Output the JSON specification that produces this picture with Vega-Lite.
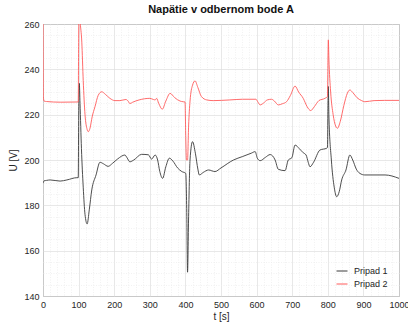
{
  "$schema": "https://vega.github.io/schema/vega-lite/v6.json",
  "width": 356,
  "height": 272,
  "autosize": {"type": "none"},
  "padding": {"left": 43, "top": 24, "right": 9, "bottom": 27},
  "background": "white",
  "config": {
    "font": "Liberation Sans",
    "view": {"stroke": "#9a9a9a", "strokeWidth": 1}
  },
  "title": {"text": "Napätie v odbernom bode A", "fontSize": 11, "fontWeight": "bold", "color": "#111", "anchor": "middle", "offset": 5, "font": "Liberation Sans"},
  "data": {"values": [
    {"t": 0, "U": 189.7, "s": "Pripad 1"},
    {"t": 3, "U": 190.8, "s": "Pripad 1"},
    {"t": 10, "U": 191.0, "s": "Pripad 1"},
    {"t": 20, "U": 191.2, "s": "Pripad 1"},
    {"t": 48, "U": 190.7, "s": "Pripad 1"},
    {"t": 67, "U": 191.2, "s": "Pripad 1"},
    {"t": 95, "U": 192.2, "s": "Pripad 1"},
    {"t": 99, "U": 192.2, "s": "Pripad 1"},
    {"t": 100.5, "U": 225, "s": "Pripad 1"},
    {"t": 102, "U": 233.8, "s": "Pripad 1"},
    {"t": 104, "U": 225, "s": "Pripad 1"},
    {"t": 108, "U": 205, "s": "Pripad 1"},
    {"t": 113, "U": 188, "s": "Pripad 1"},
    {"t": 118, "U": 176, "s": "Pripad 1"},
    {"t": 124, "U": 171.8, "s": "Pripad 1"},
    {"t": 130, "U": 178, "s": "Pripad 1"},
    {"t": 137, "U": 186.8, "s": "Pripad 1"},
    {"t": 149, "U": 193.4, "s": "Pripad 1"},
    {"t": 160, "U": 199, "s": "Pripad 1"},
    {"t": 170, "U": 198.3, "s": "Pripad 1"},
    {"t": 183, "U": 197.2, "s": "Pripad 1"},
    {"t": 195, "U": 198.5, "s": "Pripad 1"},
    {"t": 210, "U": 200.5, "s": "Pripad 1"},
    {"t": 230, "U": 202.2, "s": "Pripad 1"},
    {"t": 236, "U": 201, "s": "Pripad 1"},
    {"t": 244, "U": 199.2, "s": "Pripad 1"},
    {"t": 255, "U": 200, "s": "Pripad 1"},
    {"t": 277, "U": 202.5, "s": "Pripad 1"},
    {"t": 296, "U": 202.3, "s": "Pripad 1"},
    {"t": 305, "U": 200.4, "s": "Pripad 1"},
    {"t": 315, "U": 202.2, "s": "Pripad 1"},
    {"t": 322, "U": 200, "s": "Pripad 1"},
    {"t": 328, "U": 195, "s": "Pripad 1"},
    {"t": 336, "U": 191.9, "s": "Pripad 1"},
    {"t": 345, "U": 197, "s": "Pripad 1"},
    {"t": 355, "U": 200.8, "s": "Pripad 1"},
    {"t": 365, "U": 199.5, "s": "Pripad 1"},
    {"t": 378, "U": 196.5, "s": "Pripad 1"},
    {"t": 390, "U": 194.9, "s": "Pripad 1"},
    {"t": 401, "U": 194.1, "s": "Pripad 1"},
    {"t": 404, "U": 175, "s": "Pripad 1"},
    {"t": 406, "U": 150.5, "s": "Pripad 1"},
    {"t": 409, "U": 175, "s": "Pripad 1"},
    {"t": 413, "U": 200, "s": "Pripad 1"},
    {"t": 420, "U": 208.1, "s": "Pripad 1"},
    {"t": 428, "U": 203, "s": "Pripad 1"},
    {"t": 435, "U": 196, "s": "Pripad 1"},
    {"t": 439, "U": 193.4, "s": "Pripad 1"},
    {"t": 450, "U": 194.5, "s": "Pripad 1"},
    {"t": 465, "U": 195.6, "s": "Pripad 1"},
    {"t": 483, "U": 194.9, "s": "Pripad 1"},
    {"t": 500, "U": 196.5, "s": "Pripad 1"},
    {"t": 535, "U": 200, "s": "Pripad 1"},
    {"t": 560, "U": 201.5, "s": "Pripad 1"},
    {"t": 585, "U": 203, "s": "Pripad 1"},
    {"t": 596, "U": 203.7, "s": "Pripad 1"},
    {"t": 602, "U": 200.8, "s": "Pripad 1"},
    {"t": 610, "U": 199.7, "s": "Pripad 1"},
    {"t": 625, "U": 201.2, "s": "Pripad 1"},
    {"t": 638, "U": 202.4, "s": "Pripad 1"},
    {"t": 652, "U": 200, "s": "Pripad 1"},
    {"t": 661, "U": 195.9, "s": "Pripad 1"},
    {"t": 680, "U": 195.3, "s": "Pripad 1"},
    {"t": 689, "U": 200, "s": "Pripad 1"},
    {"t": 699, "U": 201, "s": "Pripad 1"},
    {"t": 708, "U": 206.6, "s": "Pripad 1"},
    {"t": 720, "U": 205, "s": "Pripad 1"},
    {"t": 731, "U": 203.2, "s": "Pripad 1"},
    {"t": 739, "U": 202.2, "s": "Pripad 1"},
    {"t": 745, "U": 199, "s": "Pripad 1"},
    {"t": 750, "U": 197, "s": "Pripad 1"},
    {"t": 760, "U": 199, "s": "Pripad 1"},
    {"t": 778, "U": 204.4, "s": "Pripad 1"},
    {"t": 797, "U": 205.2, "s": "Pripad 1"},
    {"t": 799, "U": 205.5, "s": "Pripad 1"},
    {"t": 800.5, "U": 225, "s": "Pripad 1"},
    {"t": 801.5, "U": 232.4, "s": "Pripad 1"},
    {"t": 803, "U": 220, "s": "Pripad 1"},
    {"t": 810, "U": 200, "s": "Pripad 1"},
    {"t": 818, "U": 188, "s": "Pripad 1"},
    {"t": 825, "U": 183.8, "s": "Pripad 1"},
    {"t": 832, "U": 186, "s": "Pripad 1"},
    {"t": 839, "U": 191.2, "s": "Pripad 1"},
    {"t": 851, "U": 195.6, "s": "Pripad 1"},
    {"t": 862, "U": 202.2, "s": "Pripad 1"},
    {"t": 870, "U": 200, "s": "Pripad 1"},
    {"t": 880, "U": 196, "s": "Pripad 1"},
    {"t": 890, "U": 194.1, "s": "Pripad 1"},
    {"t": 904, "U": 193.4, "s": "Pripad 1"},
    {"t": 961, "U": 193.4, "s": "Pripad 1"},
    {"t": 1000, "U": 191.9, "s": "Pripad 1"},

    {"t": 0, "U": 270, "s": "Pripad 2"},
    {"t": 1, "U": 228, "s": "Pripad 2"},
    {"t": 3, "U": 226, "s": "Pripad 2"},
    {"t": 10, "U": 225.8, "s": "Pripad 2"},
    {"t": 50, "U": 225.5, "s": "Pripad 2"},
    {"t": 99, "U": 225.6, "s": "Pripad 2"},
    {"t": 100, "U": 250, "s": "Pripad 2"},
    {"t": 101.5, "U": 270, "s": "Pripad 2"},
    {"t": 104, "U": 262, "s": "Pripad 2"},
    {"t": 109, "U": 252, "s": "Pripad 2"},
    {"t": 113, "U": 235, "s": "Pripad 2"},
    {"t": 118, "U": 220, "s": "Pripad 2"},
    {"t": 124, "U": 213.5, "s": "Pripad 2"},
    {"t": 127, "U": 212.5, "s": "Pripad 2"},
    {"t": 132, "U": 214, "s": "Pripad 2"},
    {"t": 138, "U": 219, "s": "Pripad 2"},
    {"t": 146, "U": 223.5, "s": "Pripad 2"},
    {"t": 155, "U": 228.5, "s": "Pripad 2"},
    {"t": 165, "U": 230.1, "s": "Pripad 2"},
    {"t": 175, "U": 229, "s": "Pripad 2"},
    {"t": 188, "U": 227.2, "s": "Pripad 2"},
    {"t": 202, "U": 226.2, "s": "Pripad 2"},
    {"t": 216, "U": 226.2, "s": "Pripad 2"},
    {"t": 233, "U": 226.7, "s": "Pripad 2"},
    {"t": 239, "U": 226, "s": "Pripad 2"},
    {"t": 244, "U": 224.9, "s": "Pripad 2"},
    {"t": 252, "U": 225.5, "s": "Pripad 2"},
    {"t": 270, "U": 226.5, "s": "Pripad 2"},
    {"t": 300, "U": 227.2, "s": "Pripad 2"},
    {"t": 310, "U": 226.7, "s": "Pripad 2"},
    {"t": 315, "U": 226.5, "s": "Pripad 2"},
    {"t": 319, "U": 227.2, "s": "Pripad 2"},
    {"t": 325, "U": 225, "s": "Pripad 2"},
    {"t": 335, "U": 222.4, "s": "Pripad 2"},
    {"t": 345, "U": 226, "s": "Pripad 2"},
    {"t": 357, "U": 229.4, "s": "Pripad 2"},
    {"t": 370, "U": 227.5, "s": "Pripad 2"},
    {"t": 385, "U": 226, "s": "Pripad 2"},
    {"t": 394, "U": 225.7, "s": "Pripad 2"},
    {"t": 399, "U": 225.6, "s": "Pripad 2"},
    {"t": 401, "U": 210, "s": "Pripad 2"},
    {"t": 403, "U": 200, "s": "Pripad 2"},
    {"t": 406, "U": 200, "s": "Pripad 2"},
    {"t": 409, "U": 215, "s": "Pripad 2"},
    {"t": 413, "U": 226, "s": "Pripad 2"},
    {"t": 420, "U": 233, "s": "Pripad 2"},
    {"t": 427, "U": 234.9, "s": "Pripad 2"},
    {"t": 435, "U": 232, "s": "Pripad 2"},
    {"t": 445, "U": 228, "s": "Pripad 2"},
    {"t": 460, "U": 226.5, "s": "Pripad 2"},
    {"t": 478, "U": 226.2, "s": "Pripad 2"},
    {"t": 525, "U": 226.5, "s": "Pripad 2"},
    {"t": 560, "U": 226.8, "s": "Pripad 2"},
    {"t": 598, "U": 226.8, "s": "Pripad 2"},
    {"t": 604, "U": 225.5, "s": "Pripad 2"},
    {"t": 610, "U": 224.3, "s": "Pripad 2"},
    {"t": 620, "U": 225.2, "s": "Pripad 2"},
    {"t": 630, "U": 226.5, "s": "Pripad 2"},
    {"t": 642, "U": 226.8, "s": "Pripad 2"},
    {"t": 650, "U": 226, "s": "Pripad 2"},
    {"t": 661, "U": 224.3, "s": "Pripad 2"},
    {"t": 672, "U": 224.8, "s": "Pripad 2"},
    {"t": 684, "U": 225.7, "s": "Pripad 2"},
    {"t": 695, "U": 228.5, "s": "Pripad 2"},
    {"t": 708, "U": 232.6, "s": "Pripad 2"},
    {"t": 718, "U": 230, "s": "Pripad 2"},
    {"t": 731, "U": 227.2, "s": "Pripad 2"},
    {"t": 742, "U": 223.5, "s": "Pripad 2"},
    {"t": 752, "U": 221.8, "s": "Pripad 2"},
    {"t": 762, "U": 223.5, "s": "Pripad 2"},
    {"t": 775, "U": 226.2, "s": "Pripad 2"},
    {"t": 792, "U": 227.2, "s": "Pripad 2"},
    {"t": 799, "U": 228, "s": "Pripad 2"},
    {"t": 800.5, "U": 245, "s": "Pripad 2"},
    {"t": 801.5, "U": 253, "s": "Pripad 2"},
    {"t": 803, "U": 245, "s": "Pripad 2"},
    {"t": 808, "U": 230, "s": "Pripad 2"},
    {"t": 815, "U": 220, "s": "Pripad 2"},
    {"t": 822, "U": 215, "s": "Pripad 2"},
    {"t": 827, "U": 214, "s": "Pripad 2"},
    {"t": 835, "U": 217, "s": "Pripad 2"},
    {"t": 845, "U": 224, "s": "Pripad 2"},
    {"t": 855, "U": 229.5, "s": "Pripad 2"},
    {"t": 862, "U": 230.9, "s": "Pripad 2"},
    {"t": 870, "U": 229.8, "s": "Pripad 2"},
    {"t": 882, "U": 227.5, "s": "Pripad 2"},
    {"t": 895, "U": 226.2, "s": "Pripad 2"},
    {"t": 904, "U": 225.7, "s": "Pripad 2"},
    {"t": 930, "U": 226.2, "s": "Pripad 2"},
    {"t": 960, "U": 226.3, "s": "Pripad 2"},
    {"t": 1000, "U": 226.3, "s": "Pripad 2"}
  ]},
  "mark": {"type": "line", "clip": true, "strokeWidth": 0.9, "interpolate": "monotone"},
  "encoding": {
    "x": {
      "field": "t", "type": "quantitative",
      "scale": {"domain": [0, 1000], "nice": false, "zero": false},
      "axis": {
        "title": "t [s]", "titleFontSize": 10, "titleFontWeight": "normal", "titleColor": "#262626", "titlePadding": 2,
        "values": [0,20,40,60,80,100,120,140,160,180,200,220,240,260,280,300,320,340,360,380,400,420,440,460,480,500,520,540,560,580,600,620,640,660,680,700,720,740,760,780,800,820,840,860,880,900,920,940,960,980,1000],
        "format": "d",
        "labelExpr": "datum.value % 100 === 0 ? datum.label : ''",
        "labelOverlap": false, "labelFlush": false, "labelFontSize": 9, "labelColor": "#262626", "labelPadding": 4,
        "domain": false, "ticks": false,
        "gridColor": {"condition": {"test": "datum.value % 100 === 0", "value": "#dedede"}, "value": "#ececec"},
        "gridDash": {"condition": {"test": "datum.value % 100 === 0", "value": []}, "value": [1, 1.5]},
        "gridWidth": 0.7
      }
    },
    "y": {
      "field": "U", "type": "quantitative",
      "scale": {"domain": [140, 260], "nice": false, "zero": false},
      "axis": {
        "title": "U [V]", "titleFontSize": 10, "titleFontWeight": "normal", "titleColor": "#262626", "titlePadding": 5,
        "values": [140,145,150,155,160,165,170,175,180,185,190,195,200,205,210,215,220,225,230,235,240,245,250,255,260],
        "format": "d",
        "labelExpr": "datum.value % 20 === 0 ? datum.label : ''",
        "labelOverlap": false, "labelFlush": false, "labelFontSize": 9, "labelColor": "#262626", "labelPadding": 4,
        "domain": false, "ticks": false,
        "gridColor": {"condition": {"test": "datum.value % 20 === 0", "value": "#dedede"}, "value": "#ececec"},
        "gridDash": {"condition": {"test": "datum.value % 20 === 0", "value": []}, "value": [1, 1.5]},
        "gridWidth": 0.7
      }
    },
    "color": {
      "field": "s", "type": "nominal",
      "scale": {"domain": ["Pripad 1", "Pripad 2"], "range": ["#3a3a3a", "#ff5a5a"]},
      "legend": {
        "title": null, "orient": "none", "legendX": 293, "legendY": 241,
        "symbolType": "stroke", "symbolSize": 121, "symbolStrokeWidth": 1,
        "labelFontSize": 9, "labelColor": "#262626", "labelOffset": 6, "rowPadding": 2, "padding": 0
      }
    }
  }
}
